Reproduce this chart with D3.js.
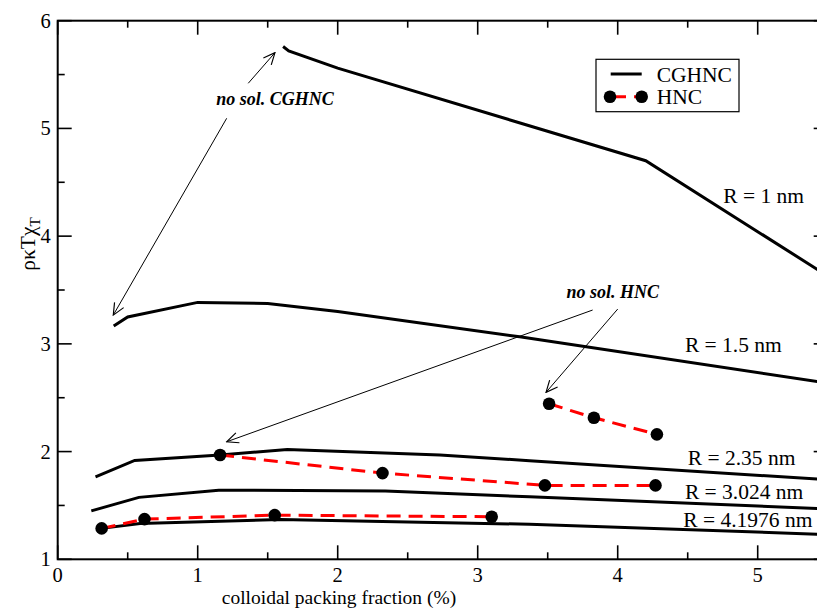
<!DOCTYPE html>
<html>
<head>
<meta charset="utf-8">
<script src="https://d3js.org/d3.v7.min.js"></script>
<style>
  body { margin: 0; background: #fff; }
  text { font-family: "Liberation Serif", "Times New Roman", serif; }
</style>
</head>
<body>
<div id="container"></div>
<script>
// CGHNC curves (packing fraction %, rho k T chi_T)
var cg_R1_x = [1.61, 1.65, 2.0, 4.2, 5.5];
var cg_R1_y = [5.76, 5.72, 5.56, 4.70, 3.63];
var cg_R15_x = [0.4, 0.5, 1.0, 1.5, 2.0, 3.3, 5.5];
var cg_R15_y = [3.165, 3.25, 3.385, 3.375, 3.30, 3.065, 2.635];
var cg_R235_x = [0.27, 0.55, 1.16, 1.64, 2.73, 3.37, 5.5];
var cg_R235_y = [1.766, 1.918, 1.968, 2.02, 1.968, 1.915, 1.738];
var cg_R3_x = [0.24, 0.58, 1.15, 2.34, 3.37, 5.5];
var cg_R3_y = [1.45, 1.575, 1.642, 1.635, 1.58, 1.468];
var cg_R4_x = [0.314, 0.588, 1.59, 3.37, 5.5];
var cg_R4_y = [1.287, 1.333, 1.37, 1.325, 1.23];

// HNC points
var hnc_R15_x = [3.51, 3.83, 4.28];
var hnc_R15_y = [2.444, 2.314, 2.16];
var hnc_R235_x = [1.16, 2.32, 3.48, 4.27];
var hnc_R235_y = [1.968, 1.80, 1.686, 1.686];
var hnc_R4_x = [0.314, 0.62, 1.55, 3.10];
var hnc_R4_y = [1.287, 1.373, 1.41, 1.395];

var curveLabels = ["R = 1 nm", "R = 1.5 nm", "R = 2.35 nm", "R = 3.024 nm", "R = 4.1976 nm"];
var xTicks = [0, 1, 2, 3, 4, 5];
var yTicks = [1, 2, 3, 4, 5, 6];
var xMinor = [0.5, 1.5, 2.5, 3.5, 4.5];
var yMinor = [1.5, 2.5, 3.5, 4.5, 5.5];

var width = 817, height = 609;
var pL = 57.7, pR = 827.7, pT = 20.7, pB = 559.3;

var svg = d3.select("#container").append("svg")
  .attr("width", width).attr("height", height);

var x = d3.scaleLinear().domain([0, 5.5]).range([pL, pR]);
var y = d3.scaleLinear().domain([1, 6]).range([pB, pT]);

var defs = svg.append("defs");
defs.append("clipPath").attr("id", "clip")
  .append("rect").attr("x", pL).attr("y", pT)
  .attr("width", pR - pL).attr("height", pB - pT);

var marker = defs.append("marker")
  .attr("id", "arrow").attr("markerUnits", "userSpaceOnUse")
  .attr("markerWidth", 14).attr("markerHeight", 14)
  .attr("refX", 10).attr("refY", 0)
  .attr("viewBox", "-1 -6 12 12")
  .attr("orient", "auto");
marker.append("path").attr("d", "M0,-4.5L10,0L0,4.5")
  .attr("fill", "none").attr("stroke", "black").attr("stroke-width", 1);

// axes: frame plus inward ticks on all four sides
function drawAxes() {
  var g = svg.append("g");
  var xt = xTicks.map(function(v){ return {v: v, len: 14}; })
    .concat(xMinor.map(function(v){ return {v: v, len: 7}; }));
  var ytk = yTicks.map(function(v){ return {v: v, len: 14}; })
    .concat(yMinor.map(function(v){ return {v: v, len: 7}; }));

  [[pB, -1], [pT, 1]].forEach(function(side) {
    g.selectAll(null).data(xt).enter().append("line")
      .attr("x1", function(d){ return x(d.v); }).attr("x2", function(d){ return x(d.v); })
      .attr("y1", side[0]).attr("y2", function(d){ return side[0] + side[1] * d.len; })
      .attr("stroke", "black").attr("stroke-width", 1.6);
  });
  [[pL, 1], [pR, -1]].forEach(function(side) {
    g.selectAll(null).data(ytk).enter().append("line")
      .attr("y1", function(d){ return y(d.v); }).attr("y2", function(d){ return y(d.v); })
      .attr("x1", side[0]).attr("x2", function(d){ return side[0] + side[1] * d.len; })
      .attr("stroke", "black").attr("stroke-width", 1.6);
  });
  g.append("rect").attr("x", pL).attr("y", pT)
    .attr("width", pR - pL).attr("height", pB - pT)
    .attr("fill", "none").attr("stroke", "black").attr("stroke-width", 2);

  g.selectAll(null).data(xTicks).enter().append("text")
    .attr("x", function(d){ return x(d); }).attr("y", pB + 23)
    .attr("text-anchor", "middle").attr("font-size", 20.5).text(function(d){ return d; });
  g.selectAll(null).data(yTicks).enter().append("text")
    .attr("x", pL - 7).attr("y", function(d){ return y(d) + 7; })
    .attr("text-anchor", "end").attr("font-size", 20.5).text(function(d){ return d; });

  g.append("text").attr("x", 339).attr("y", 604)
    .attr("text-anchor", "middle").attr("font-size", 19.5)
    .text("colloidal packing fraction (%)");
  var yt = g.append("text").attr("transform", "translate(35,244) rotate(-90)")
    .attr("text-anchor", "middle").attr("font-size", 21.5);
  yt.append("tspan").text("ρκTχ");
  yt.append("tspan").attr("font-size", 15).attr("dy", 5).text("T");
}
drawAxes();

var line = d3.line().x(function(d){ return x(d[0]); }).y(function(d){ return y(d[1]); });
var plot = svg.append("g").attr("clip-path", "url(#clip)");

var cgSeries = [[cg_R1_x, cg_R1_y], [cg_R15_x, cg_R15_y], [cg_R235_x, cg_R235_y],
                [cg_R3_x, cg_R3_y], [cg_R4_x, cg_R4_y]];
cgSeries.forEach(function(s) {
  plot.append("path").datum(d3.zip(s[0], s[1]))
    .attr("d", line).attr("fill", "none").attr("stroke", "black").attr("stroke-width", 3);
});

var hncSeries = [[hnc_R15_x, hnc_R15_y], [hnc_R235_x, hnc_R235_y], [hnc_R4_x, hnc_R4_y]];
hncSeries.forEach(function(s) {
  var pts = d3.zip(s[0], s[1]);
  plot.append("path").datum(pts)
    .attr("d", line).attr("fill", "none").attr("stroke", "#ff0000")
    .attr("stroke-width", 3).attr("stroke-dasharray", "14,8");
  plot.selectAll(null).data(pts).enter().append("circle")
    .attr("cx", function(d){ return x(d[0]); }).attr("cy", function(d){ return y(d[1]); })
    .attr("r", 6.3).attr("fill", "black");
});

// curve labels
var labelPos = [[4.754, 4.31], [4.48, 2.927], [4.5, 1.875], [4.48, 1.556], [4.468, 1.296]];
svg.selectAll(".rl").data(curveLabels).enter().append("text")
  .attr("x", function(d, i){ return x(labelPos[i][0]); })
  .attr("y", function(d, i){ return y(labelPos[i][1]); })
  .attr("font-size", 21.5).text(function(d){ return d; });

// annotations
function arrow(x1, y1, x2, y2) {
  svg.append("line").attr("x1", x(x1)).attr("y1", y(y1)).attr("x2", x(x2)).attr("y2", y(y2))
    .attr("stroke", "black").attr("stroke-width", 1).attr("marker-end", "url(#arrow)");
}
svg.append("text").attr("x", x(1.552)).attr("y", y(5.217)).attr("text-anchor", "middle")
  .attr("font-size", 18).attr("font-weight", "bold").attr("font-style", "italic")
  .text("no sol. CGHNC");
arrow(1.361, 5.419, 1.552, 5.703);
arrow(1.207, 5.094, 0.397, 3.267);
svg.append("text").attr("x", x(3.965)).attr("y", y(3.425)).attr("text-anchor", "middle")
  .attr("font-size", 18).attr("font-weight", "bold").attr("font-style", "italic")
  .text("no sol. HNC");
arrow(3.821, 3.314, 1.207, 2.091);
arrow(4.0, 3.323, 3.488, 2.55);

// legend
var lg = svg.append("g");
lg.append("rect").attr("x", 596).attr("y", 59.3).attr("width", 143).attr("height", 52.4)
  .attr("fill", "white").attr("stroke", "black").attr("stroke-width", 1.2);
lg.append("line").attr("x1", 610.7).attr("x2", 641.7).attr("y1", 74).attr("y2", 74)
  .attr("stroke", "black").attr("stroke-width", 3);
lg.append("text").attr("x", 656.7).attr("y", 81.5).attr("font-size", 21.5).text("CGHNC");
lg.append("line").attr("x1", 610).attr("x2", 641.7).attr("y1", 96.7).attr("y2", 96.7)
  .attr("stroke", "#ff0000").attr("stroke-width", 3).attr("stroke-dasharray", "14,8")
  .attr("stroke-dashoffset", -2);
lg.selectAll(null).data([610, 641.7]).enter().append("circle")
  .attr("cx", function(d){ return d; }).attr("cy", 96.7).attr("r", 6.3).attr("fill", "black");
lg.append("text").attr("x", 656.7).attr("y", 104).attr("font-size", 21.5).text("HNC");
</script>
</body>
</html>
